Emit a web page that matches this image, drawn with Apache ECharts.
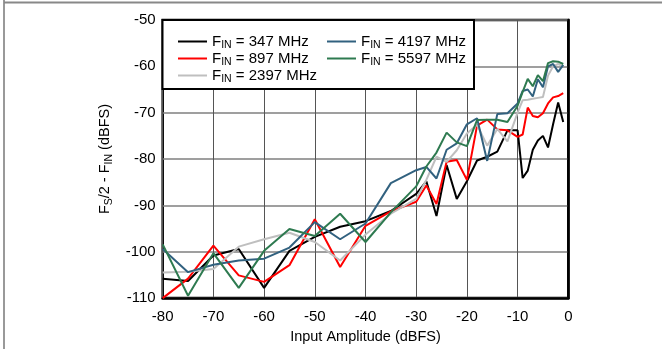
<!DOCTYPE html>
<html>
<head>
<meta charset="utf-8">
<script src="https://cdn.jsdelivr.net/npm/echarts@6/dist/echarts.min.js"></script>
<style>
html,body{margin:0;padding:0;background:#fff;}
#c{width:662px;height:349px;}
</style>
</head>
<body>
<div id="c"></div>
<script>
// X values (input amplitude, dBFS)
const xVals = [-80,-75,-70,-65,-60,-55,-50,-45,-40,-35,-30,-28,-26,-24,-22,-20,-18,-16,-14,-12,-10,-9,-8,-7,-6,-5,-4,-3,-2,-1];
// Series values (dBFS)
const f347  = [-105.8,-106.3,-100.8,-99.4,-107.8,-99.8,-96.8,-94.6,-93.4,-91.2,-87.5,-84.8,-92.3,-81.3,-88.6,-84.8,-80.3,-79.5,-78.4,-73.8,-73.8,-84.1,-82.5,-78,-76,-75,-77.5,-72.5,-67.8,-72];
const f897  = [-110,-105.8,-98.7,-105.1,-106.5,-102.9,-93,-103.3,-94.4,-91.3,-89.2,-85.7,-89.7,-80.6,-80.2,-84.5,-72.8,-71.5,-73.6,-73.8,-75.2,-74.7,-68.9,-70.7,-71,-70.1,-68,-66.7,-66.4,-65.8];
const f2397 = [-104.5,-104.3,-103.7,-98.9,-97.3,-95.9,-97.9,-101.9,-96.3,-91.8,-88.6,-84.5,-79.5,-80.6,-78.1,-74.5,-72.6,-77.1,-73.5,-76.2,-70,-67.3,-67.2,-67,-66.8,-66.6,-62,-60,-59.5,-60];
const f4197 = [-99.4,-104.4,-102.8,-101.9,-101.5,-99.1,-93.6,-97.3,-93.9,-85.2,-82.4,-81.7,-84.2,-78,-76.6,-72.5,-71.2,-80.4,-70.3,-70.1,-68,-65.3,-65,-66.5,-62.8,-64.5,-60,-59.5,-61.2,-59.7];
const f5597 = [-98.4,-109.5,-100.3,-107.8,-99.8,-95.1,-96.6,-91.8,-97.9,-91.5,-85.9,-81.6,-78.6,-74.3,-76.4,-77.2,-71.6,-71.5,-71.5,-72,-68.5,-65.5,-62.7,-64.3,-61.9,-63.2,-59.3,-58.9,-59,-59.5];
const seriesNames = ['347','897','2397','4197','5597'];
const xTicks = [-80,-70,-60,-50,-40,-30,-20,-10,0];
const yTicks = [-110,-100,-90,-80,-70,-60,-50];

const colors = {'347':'#000000','897':'#ff0000','2397':'#bfbfbf','4197':'#31617f','5597':'#2e7a50'};
const dataMap = {'347':f347,'897':f897,'2397':f2397,'4197':f4197,'5597':f5597};
const FONT = '"Liberation Sans", Arial, sans-serif';

function pairs(arr){ return xVals.map((x,i)=>[x,arr[i]]); }

const legRich = {
  a:{fontSize:15,fontFamily:FONT,color:'#000',lineHeight:17,verticalAlign:'middle'},
  b:{fontSize:10.5,fontFamily:FONT,color:'#000',lineHeight:17,verticalAlign:'bottom',padding:[0,0,-1,0]}
};
function legFmt(n){ return '{a|F}{b|IN}{a| = '+n+' MHz}'; }

const chart = echarts.init(document.getElementById('c'),null,{renderer:'canvas'});
chart.setOption({
  animation:false,
  backgroundColor:'#fff',
  grid:{left:162.7,right:93.7,top:20,bottom:41.7,show:true,borderColor:'#000',borderWidth:2.5,containLabel:false},
  xAxis:{
    type:'value',min:xTicks[0],max:xTicks[xTicks.length-1],interval:10,
    name:'Input Amplitude (dBFS)',nameLocation:'middle',nameGap:27,
    nameTextStyle:{fontSize:14.5,fontFamily:FONT,color:'#000'},
    axisLine:{show:true,lineStyle:{color:'#000',width:2.5}},
    axisTick:{show:false},
    axisLabel:{fontSize:15,fontFamily:FONT,color:'#000',margin:11},
    splitLine:{show:true,lineStyle:{color:'#555',width:1}}
  },
  yAxis:{
    type:'value',min:yTicks[0],max:yTicks[yTicks.length-1],interval:10,
    name:'{a|F}{b|S}{a|/2 - F}{b|IN}{a| (dBFS)}',nameLocation:'middle',nameGap:45,nameRotate:90,
    nameTextStyle:{rich:{
      a:{fontSize:14.5,fontFamily:FONT,color:'#000',lineHeight:18,verticalAlign:'middle'},
      b:{fontSize:10.5,fontFamily:FONT,color:'#000',lineHeight:18,verticalAlign:'bottom',padding:[0,0,-1,0]}
    }},
    axisLine:{show:true,lineStyle:{color:'#000',width:2.5}},
    axisTick:{show:false},
    axisLabel:{fontSize:15,fontFamily:FONT,color:'#000',margin:7},
    splitLine:{show:true,lineStyle:{color:'#7f7f7f',width:1.5}}
  },
  legend:[
    {data:['347','897','2397'],orient:'vertical',left:173,top:29,itemWidth:29,itemHeight:2,itemGap:0,
     icon:'rect',formatter:legFmt,textStyle:{rich:legRich},z:10,selectedMode:false},
    {data:['4197','5597'],orient:'vertical',left:322,top:29,itemWidth:29,itemHeight:2,itemGap:0,
     icon:'rect',formatter:legFmt,textStyle:{rich:legRich},z:10,selectedMode:false}
  ],
  graphic:[
    {type:'rect',shape:{x:162.5,y:20,width:311.5,height:69},style:{fill:'#fff',stroke:'#000',lineWidth:2},z:5,silent:true},
    {type:'line',shape:{x1:4,y1:0,x2:4,y2:349},style:{stroke:'#777',lineWidth:1.5},z:5,silent:true},
    {type:'line',shape:{x1:4,y1:2.5,x2:662,y2:2.5},style:{stroke:'#888',lineWidth:2},z:5,silent:true}
  ],
  series: seriesNames.map(n=>({
    name:n,type:'line',data:pairs(dataMap[n]),showSymbol:false,symbol:'none',
    lineStyle:{color:colors[n],width:2},itemStyle:{color:colors[n]},z:2
  }))
});
</script>
</body>
</html>
